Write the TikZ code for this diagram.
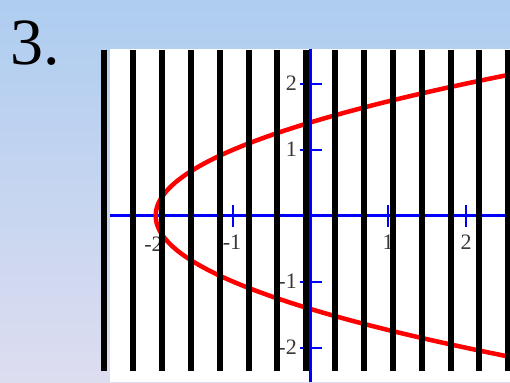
\documentclass[tikz,border=0pt]{standalone}
\usepackage{fontspec}
\setmainfont{Liberation Serif}
\definecolor{bgtop}{RGB}{174,205,240}
\definecolor{bgbot}{RGB}{221,221,240}
\definecolor{labgray}{RGB}{55,55,55}
\begin{document}
\begin{tikzpicture}[x=1pt,y=1pt,
  axisline/.style={draw={rgb,255:red,0;green,0;blue,255},line width=3.5pt},
  tickline/.style={draw={rgb,255:red,0;green,0;blue,255},line width=1.8pt},
  bar/.style={draw=black,line width=6pt},
  curve/.style={draw={rgb,255:red,255;green,0;blue,0},line width=4.5pt,line cap=round},
  ticklabel/.style={font=\fontsize{22}{22}\selectfont,text=labgray,inner sep=0pt}]
\useasboundingbox (0,0) rectangle (510,382);
\shade[top color=bgtop,bottom color=bgbot] (0,0) rectangle (510,382);
\fill[white] (110,0) rectangle (510,333);
% origin at (310.7,166.3); units 77.5 (x), 66 (y)
\coordinate (xl) at (110,166.3);
\coordinate (xr) at (510,166.3);
\coordinate (yt) at (310.7,333);
\coordinate (yb) at (310.7,0);
\draw[axisline] (xl) -- (xr);
\foreach \k in {-1,1,2}{
  \draw[tickline] ({310.7+77.5*\k},{166.3-11}) -- ({310.7+77.5*\k},{166.3+11});
}
\foreach \k in {-2,-1,1,2}{
  \draw[tickline] (299.7,{166.3+66*\k}) -- (321.7,{166.3+66*\k});
}
\node[ticklabel,anchor=east] (ly2) at (297,{166.3+132}) {2};
\node[ticklabel,anchor=east] (ly1) at (297,{166.3+66}) {1};
\node[ticklabel,anchor=east] (lym1) at (297,{166.3-66}) {-1};
\node[ticklabel,anchor=east] (lym2) at (297,{166.3-132}) {-2};
\node[ticklabel] (lxm2) at (153.5,138) {-2};
\node[ticklabel] (lxm1) at (232,140) {-1};
\node[ticklabel] (lx1) at (388,140) {1};
\node[ticklabel] (lx2) at (466,140) {2};
\draw[curve] plot[domain=-2.14:2.14,samples=120,smooth,variable=\t]
  ({310.7+77.5*(\t*\t-2)},{166.3+66*\t});
\foreach \k in {0,...,14}{
  \draw[bar] ({104.3+28.86*\k},11.3) -- ({104.3+28.86*\k},332);
}
\draw[axisline] (yt) -- (yb);
\node[anchor=base west,inner sep=0pt,font=\fontsize{66}{66}\selectfont] (num) at (10,317) {3.};
\end{tikzpicture}
\end{document}
